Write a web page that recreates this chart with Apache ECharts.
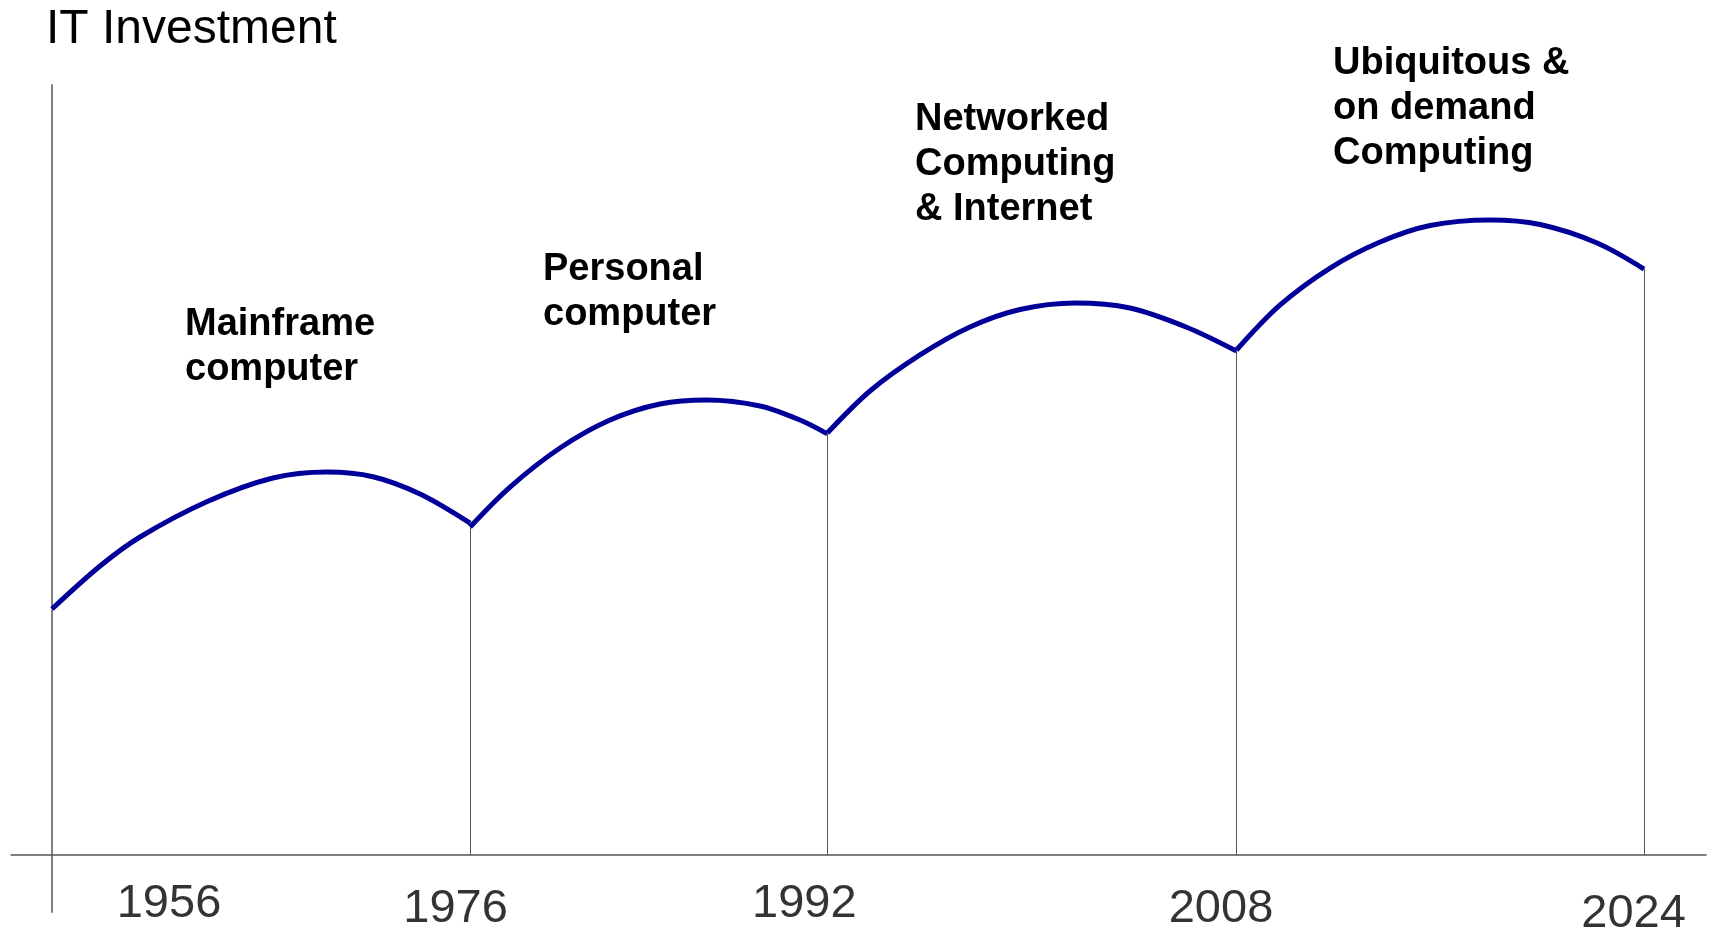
<!DOCTYPE html>
<html>
<head>
<meta charset="utf-8">
<title>IT Investment</title>
<script src="https://cdn.jsdelivr.net/npm/echarts@6/dist/echarts.min.js"></script>
<style>
  html, body { margin: 0; padding: 0; background: #ffffff; }
  #chart { width: 1712px; height: 930px; }
</style>
</head>
<body>
<div id="chart"></div>
<script>
// Year marks along the timeline (tick labels)
const years = ['1956', '1976', '1992', '2008', '2024'];
// Position of each year on the timeline axis (0 = 1956, 100 = 2024)
const boundaries = [0, 26.26, 48.7, 74.4, 100];
// Computing eras, one per interval between two years
const eras = [
  'Mainframe\ncomputer',
  'Personal\ncomputer',
  'Networked\nComputing\n& Internet',
  'Ubiquitous &\non demand\nComputing'
];
// IT investment level along each era: [timeline position, level]
const mainframe = [
  [0, 31.95], [3.02, 37.53], [5.53, 41.30], [9.72, 45.88], [13.88, 48.96],
  [17.27, 49.74], [20.16, 49.13], [23.12, 46.88], [26.26, 43.1]
];
const personal = [
  [26.26, 42.6], [28.77, 47.79], [31.91, 52.86], [35.05, 56.49], [38.19, 58.57],
  [41.14, 59.09], [44.47, 58.31], [46.98, 56.49], [48.7, 54.7]
];
const networked = [
  [48.7, 54.8], [51.38, 60.26], [54.52, 64.94], [57.66, 68.57], [60.80, 70.84],
  [64.26, 71.69], [67.71, 71.04], [71.23, 68.57], [74.4, 65.45]
];
const ubiquitous = [
  [74.4, 65.58], [77.14, 71.43], [80.28, 76.23], [83.42, 79.61], [86.56, 81.75],
  [90.33, 82.47], [93.47, 81.88], [97.05, 79.48], [100, 76.1]
];

const arcs = [mainframe, personal, networked, ubiquitous];

// Vertical divider at each year after the first, rising from the axis to the curve
const dividerLines = boundaries.slice(1).map(function (x, i) {
  const before = arcs[i][arcs[i].length - 1][1];
  const after = arcs[i + 1] ? arcs[i + 1][0][1] : before;
  return [{ coord: [x, 0] }, { coord: [x, Math.min(before, after)] }];
});

// Year label placement relative to its divider (px)
const yearLabelOffsets = [[117, 49.5], [-14.5, 54], [-23, 49.5], [-15.5, 54], [-10.5, 59.5]];
// Era label placement (px)
const eraLabelPos = [[185, 302], [543, 247], [915, 97], [1333, 41]];

const FONT = '"Liberation Sans", Arial, sans-serif';
const CURVE = '#000099';

const chart = echarts.init(document.getElementById('chart'), null, { renderer: 'canvas' });

const series = arcs.map(function (arc, i) {
  return {
    type: 'line',
    name: eras[i].replace(/\n/g, ' '),
    data: arc,
    smooth: 0.33,
    showSymbol: false,
    silent: true,
    animation: false,
    lineStyle: { color: CURVE, width: 5 },
    z: 5
  };
});

series.push({
  type: 'scatter',
  name: 'years',
  silent: true,
  animation: false,
  symbolSize: 1,
  itemStyle: { color: 'rgba(0,0,0,0)' },
  data: boundaries.map(function (x, i) {
    return {
      value: [x, 0],
      name: years[i],
      label: { offset: yearLabelOffsets[i] }
    };
  }),
  label: {
    show: true,
    position: 'inside',
    formatter: '{b}',
    fontFamily: FONT,
    fontSize: 47,
    color: '#000000',
    textBorderWidth: 0
  },
  markLine: {
    silent: true,
    animation: false,
    symbol: ['none', 'none'],
    label: { show: false },
    lineStyle: { color: '#555555', width: 1, type: 'solid' },
    data: dividerLines
  },
  z: 3
});

chart.setOption({
  animation: false,
  backgroundColor: '#ffffff',
  title: {
    text: 'IT Investment',
    left: 46,
    top: 6,
    padding: 0,
    textStyle: { fontFamily: FONT, fontSize: 48, fontWeight: 'normal', color: '#000000' }
  },
  grid: { left: 11, right: 6, top: 85, bottom: 18 },
  xAxis: {
    type: 'value',
    min: -2.575,
    max: 103.89,
    axisLine: { show: true, onZero: true, lineStyle: { color: '#555555', width: 1.5 } },
    axisTick: { show: false },
    axisLabel: { show: false },
    splitLine: { show: false }
  },
  yAxis: {
    type: 'value',
    min: -7.4,
    max: 100,
    axisLine: { show: true, onZero: true, lineStyle: { color: '#808080', width: 2 } },
    axisTick: { show: false },
    axisLabel: { show: false },
    splitLine: { show: false }
  },
  graphic: eras.map(function (t, i) {
    return {
      type: 'text',
      left: eraLabelPos[i][0],
      top: eraLabelPos[i][1],
      silent: true,
      style: {
        text: t,
        font: 'bold 38px ' + FONT,
        lineHeight: 45,
        fill: '#000000'
      }
    };
  }),
  series: series
});
</script>
</body>
</html>
